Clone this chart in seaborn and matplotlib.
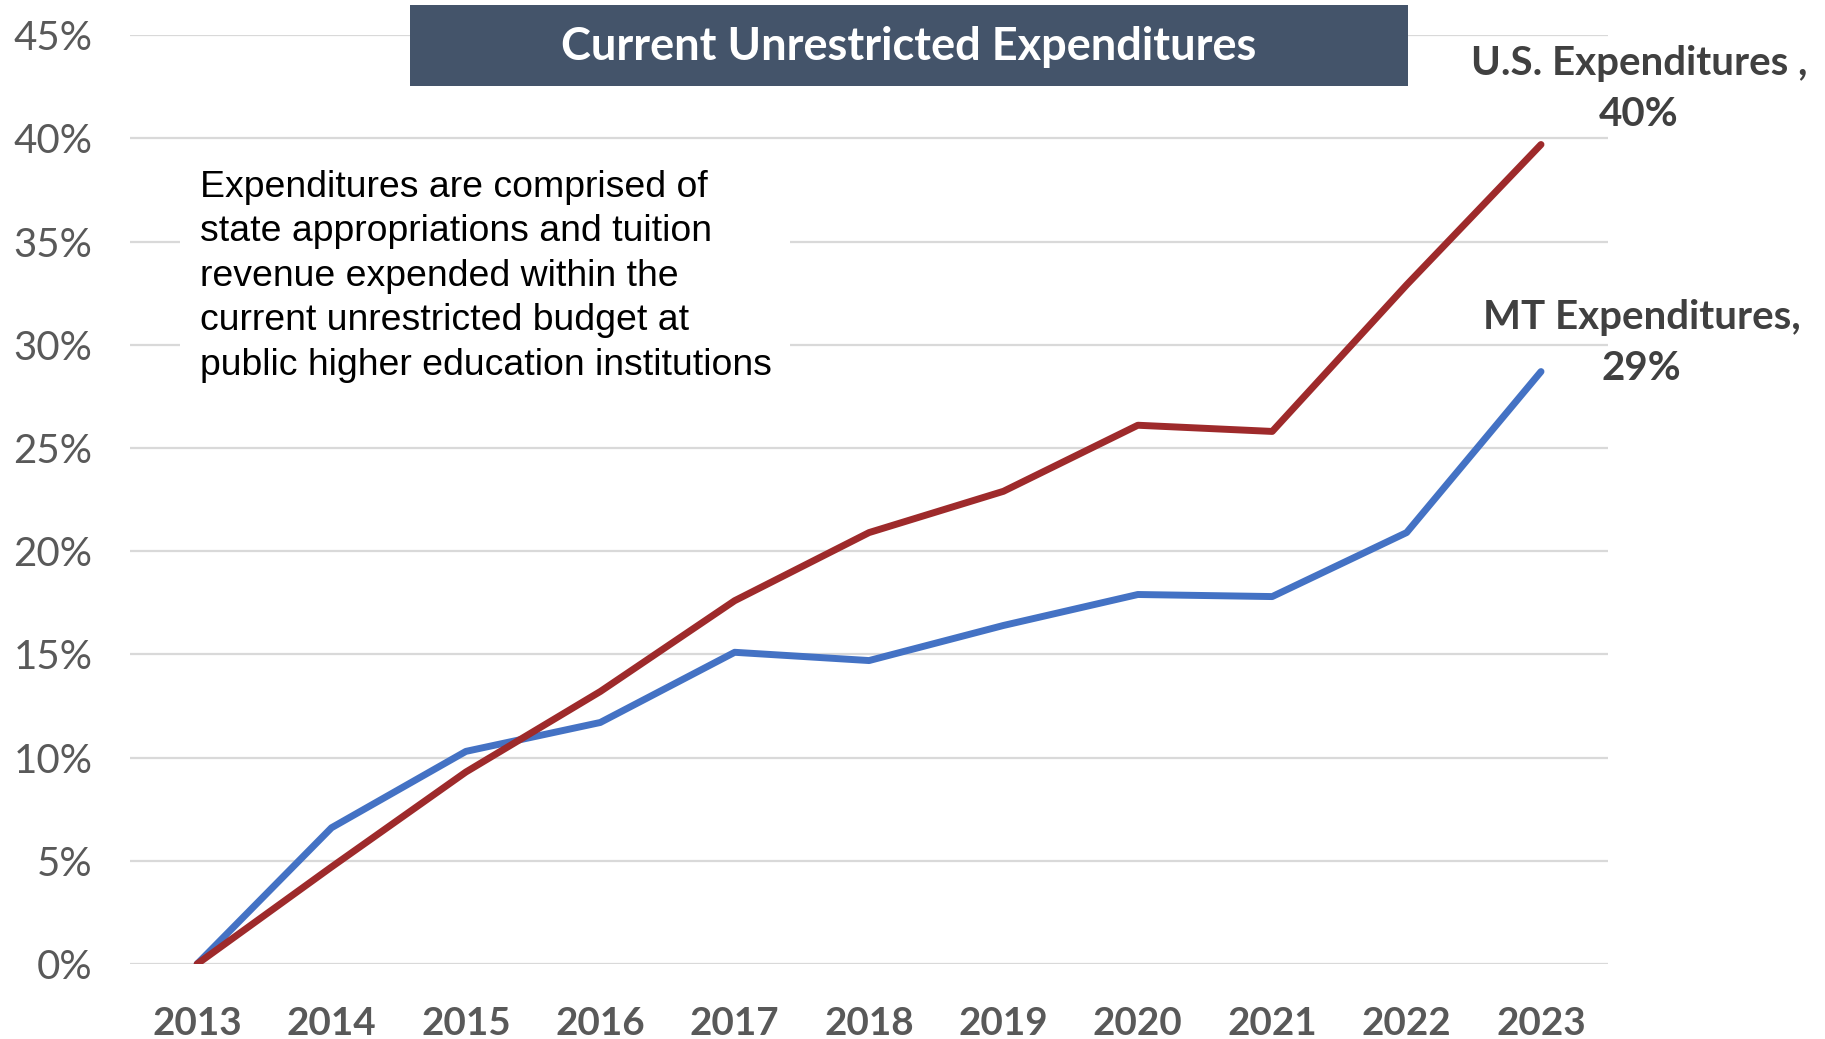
import pandas as pd
import matplotlib.pyplot as plt
import matplotlib.patches as mpatches
import seaborn as sns

# data (cumulative % change since 2013)
years = [2013, 2014, 2015, 2016, 2017, 2018, 2019, 2020, 2021, 2022, 2023]
us_expenditures = [0.0, 4.7, 9.3, 13.2, 17.6, 20.9, 22.9, 26.1, 25.8, 32.9, 39.7]
mt_expenditures = [0.0, 6.6, 10.3, 11.7, 15.1, 14.7, 16.4, 17.9, 17.8, 20.9, 28.7]
y_ticks = [0, 5, 10, 15, 20, 25, 30, 35, 40, 45]

title = 'Current Unrestricted Expenditures'
note = ('Expenditures are comprised of\n'
        'state appropriations and tuition\n'
        'revenue expended within the\n'
        'current unrestricted budget at\n'
        'public higher education institutions')


def build_frame():
    mt = pd.DataFrame({'year': years, 'value': mt_expenditures, 'series': 'MT'})
    us = pd.DataFrame({'year': years, 'value': us_expenditures, 'series': 'U.S.'})
    return pd.concat([mt, us], ignore_index=True)


def main():
    sns.set_style('white')
    plt.rcParams['font.family'] = ['Lato', 'DejaVu Sans']

    df = build_frame()

    fig = plt.figure(figsize=(18.25, 10.39), dpi=100)
    ax = fig.add_axes([0.0712, 0.0722, 0.810, 0.894])

    sns.lineplot(data=df, x='year', y='value', hue='series',
                 hue_order=['MT', 'U.S.'],
                 palette={'MT': '#4472C4', 'U.S.': '#9E2A2B'},
                 linewidth=5, solid_capstyle='round', legend=False, ax=ax)

    ax.set_xlim(years[0] - 0.5, years[-1] + 0.5)
    ax.set_ylim(0, 45)
    ax.set_xticks(years)
    ax.set_xticklabels([str(y) for y in years], fontsize=27.8, fontweight='bold', color='#595959')
    ax.set_yticks(y_ticks)
    ax.set_yticklabels([f'{v}%' for v in y_ticks], fontsize=29, color='#595959')
    ax.tick_params(axis='x', length=0, pad=30)
    ax.tick_params(axis='y', length=0, pad=27)
    ax.set_xlabel('')
    ax.set_ylabel('')
    ax.grid(axis='y', color='#D9D9D9', linewidth=1.6)
    ax.set_axisbelow(True)
    sns.despine(ax=ax, left=True, bottom=True)

    # end labels
    ax.text(years[-1] + 0.73, 42.4, 'U.S. Expenditures ,\n40%', ha='center', va='center',
            fontsize=29, fontweight='bold', color='#404040', linespacing=1.47, clip_on=False)
    ax.text(years[-1] + 0.75, 30.1, 'MT Expenditures,\n29%', ha='center', va='center',
            fontsize=29, fontweight='bold', color='#404040', linespacing=1.47, clip_on=False)

    # white box behind the note, hides the gridlines
    fig.patches.append(mpatches.Rectangle((180 / 1825, 1 - 390 / 1039), 610 / 1825, 240 / 1039,
                                          transform=fig.transFigure, facecolor='white',
                                          edgecolor='none', zorder=1))
    fig.text(200 / 1825, 1 - 170 / 1039, note, ha='left', va='top', fontsize=26.9,
             family=['Liberation Sans', 'DejaVu Sans'], color='black', linespacing=1.35, zorder=2)

    # title banner
    fig.patches.append(mpatches.Rectangle((410 / 1825, 1 - 86 / 1039), 998 / 1825, 81 / 1039,
                                          transform=fig.transFigure, facecolor='#44546A',
                                          edgecolor='none', zorder=1))
    fig.text(909 / 1825, 1 - 47 / 1039, title, ha='center', va='center', fontsize=32.5,
             fontweight='bold', color='white', zorder=2)

    fig.savefig('out.png', dpi=100)


if __name__ == "__main__":
    main()
